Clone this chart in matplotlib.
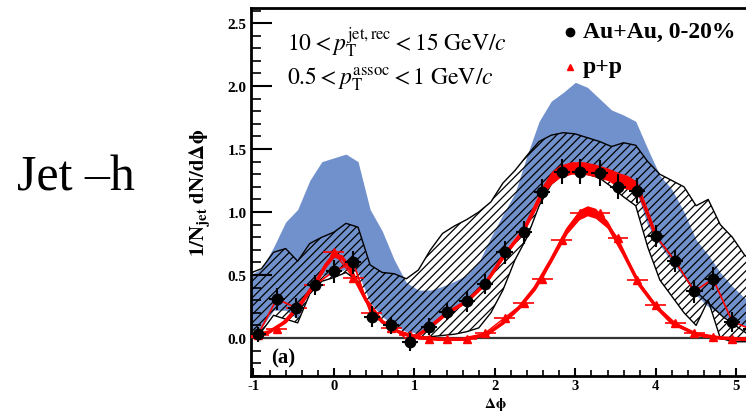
import numpy as np
import matplotlib
matplotlib.use("Agg")
import matplotlib.pyplot as plt

plt.rcParams['mathtext.fontset'] = 'stix'
plt.rcParams['font.family'] = ['Liberation Serif', 'DejaVu Serif']
plt.rcParams['axes.unicode_minus'] = False
plt.rcParams['hatch.linewidth'] = 0.9

# data points (Au+Au and p+p)
dphi = [-0.94, -0.71, -0.47, -0.24, 0.0, 0.24, 0.47, 0.71, 0.94, 1.18, 1.41, 1.65, 1.88, 2.12,
        2.36, 2.59, 2.83, 3.06, 3.30, 3.53, 3.77, 4.00, 4.24, 4.48, 4.71, 4.95, 5.18]
aa = [0.03, 0.31, 0.24, 0.42, 0.53, 0.60, 0.17, 0.10, -0.03, 0.09, 0.21, 0.29, 0.43, 0.68,
      0.84, 1.16, 1.32, 1.32, 1.31, 1.20, 1.17, 0.81, 0.61, 0.37, 0.47, 0.13, 0.07]
aa_err = [0.06, 0.09, 0.08, 0.08, 0.09, 0.09, 0.08, 0.07, 0.07, 0.07, 0.07, 0.08, 0.08, 0.09,
          0.09, 0.10, 0.10, 0.10, 0.10, 0.10, 0.10, 0.09, 0.09, 0.09, 0.09, 0.08, 0.08]
pp = [0.02, 0.07, 0.24, 0.42, 0.68, 0.48, 0.20, 0.08, 0.02, -0.01, -0.01, -0.01, 0.04, 0.16,
      0.28, 0.47, 0.78, 0.99, 0.99, 0.79, 0.46, 0.26, 0.12, 0.04, 0.01, -0.01, 0.0]

# smooth curves
pp_fit_x = [-1.03, -0.8, -0.6, -0.4, -0.2, -0.1, 0.0, 0.1, 0.2, 0.4, 0.6, 0.8, 1.0, 1.3, 1.6,
            1.9, 2.1, 2.3, 2.5, 2.7, 2.9, 3.05, 3.15, 3.25, 3.4, 3.6, 3.8, 4.0, 4.2, 4.5, 4.8, 5.12]
pp_fit_y = [0.01, 0.05, 0.13, 0.28, 0.47, 0.58, 0.66, 0.64, 0.55, 0.30, 0.13, 0.05, 0.01, -0.01,
            -0.01, 0.03, 0.12, 0.24, 0.40, 0.62, 0.86, 0.98, 1.01, 0.99, 0.90, 0.67, 0.42, 0.25,
            0.12, 0.03, 0.0, -0.01]
pp_fit_err = [0.01, 0.01, 0.01, 0.01, 0.02, 0.02, 0.02, 0.02, 0.02, 0.01, 0.01, 0.01, 0.01, 0.01,
              0.01, 0.01, 0.01, 0.01, 0.02, 0.02, 0.03, 0.04, 0.04, 0.04, 0.03, 0.02, 0.02, 0.01,
              0.01, 0.01, 0.01, 0.01]
aa_fit_x = [0.94, 1.18, 1.41, 1.65, 1.88, 2.12, 2.36, 2.5, 2.6, 2.7, 2.8, 2.95, 3.1, 3.25, 3.4,
            3.55, 3.65, 3.77, 3.88, 4.0]
aa_fit_y = [-0.02, 0.08, 0.20, 0.29, 0.43, 0.66, 0.86, 1.04, 1.18, 1.27, 1.32, 1.35, 1.35, 1.33,
            1.30, 1.26, 1.24, 1.20, 1.02, 0.81]
aa_fit_err = [0.01, 0.01, 0.01, 0.01, 0.01, 0.015, 0.02, 0.03, 0.04, 0.05, 0.05, 0.05, 0.05, 0.05,
              0.05, 0.05, 0.05, 0.04, 0.02, 0.01]
tail_x = [3.77, 4.0, 4.24, 4.45, 4.83, 5.12]
tail_y = [1.18, 0.81, 0.61, 0.40, 0.17, 0.04]

# systematic bands
band_x = [-1.1, -0.9, -0.75, -0.6, -0.45, -0.3, -0.15, 0.0, 0.15, 0.3, 0.45, 0.6, 0.75, 0.9, 1.05,
          1.2, 1.35, 1.5, 1.65, 1.8, 1.95, 2.1, 2.25, 2.4, 2.55, 2.7, 2.85, 3.0, 3.15, 3.3, 3.45,
          3.6, 3.75, 3.9, 4.05, 4.2, 4.35, 4.5, 4.65, 4.8, 4.95, 5.1, 5.2]
blue_hi = [0.48, 0.55, 0.72, 0.92, 1.02, 1.25, 1.40, 1.43, 1.46, 1.40, 1.02, 0.85, 0.62, 0.44, 0.38,
           0.38, 0.41, 0.45, 0.50, 0.60, 0.80, 0.98, 1.15, 1.45, 1.72, 1.88, 1.95, 2.03, 1.99, 1.90,
           1.81, 1.77, 1.72, 1.50, 1.29, 1.18, 1.00, 0.78, 0.66, 0.52, 0.41, 0.32, 0.28]
blue_lo = [0.05, 0.08, 0.22, 0.22, 0.15, 0.40, 0.50, 0.50, 0.55, 0.52, 0.28, 0.17, 0.10, 0.05, 0.04,
           0.07, 0.16, 0.23, 0.31, 0.40, 0.49, 0.68, 0.80, 0.93, 1.16, 1.30, 1.37, 1.40, 1.38, 1.34,
           1.28, 1.23, 1.18, 0.89, 0.74, 0.60, 0.48, 0.34, 0.25, 0.19, 0.13, 0.10, 0.08]
hatch_hi = [0.50, 0.55, 0.68, 0.71, 0.61, 0.75, 0.80, 0.84, 0.91, 0.88, 0.58, 0.52, 0.51, 0.47, 0.54,
            0.70, 0.83, 0.89, 0.94, 1.00, 1.08, 1.23, 1.33, 1.45, 1.56, 1.61, 1.63, 1.62, 1.59, 1.56,
            1.52, 1.55, 1.53, 1.40, 1.30, 1.25, 1.20, 1.05, 1.10, 0.90, 0.80, 0.66, 0.60]
hatch_lo = [0.02, 0.05, 0.18, 0.15, 0.12, 0.35, 0.45, 0.48, 0.52, 0.45, 0.22, 0.12, 0.06, 0.02, 0.0,
            0.01, 0.02, 0.03, 0.05, 0.08, 0.20, 0.38, 0.62, 0.80, 1.05, 1.22, 1.30, 1.31, 1.30, 1.27,
            1.20, 1.12, 1.05, 0.72, 0.46, 0.33, 0.20, 0.10, 0.30, 0.0, -0.03, -0.03, -0.03]

fig = plt.figure(figsize=(7.46, 4.14), dpi=100)
ax = fig.add_axes([251/746, 1-377/414, 1-251/746, 368/414])

ax.fill_between(band_x, blue_lo, blue_hi, color='#7191cc', lw=0, zorder=1)
ax.fill_between(band_x, hatch_lo, hatch_hi, facecolor='none', edgecolor='black', hatch='////',
                lw=1.0, zorder=2)
ax.axhline(0, color='#333333', lw=1.6, zorder=2.5)

# p+p
pp_fit_x = np.array(pp_fit_x)
pp_fit_y = np.array(pp_fit_y)
ax.fill_between(pp_fit_x, pp_fit_y - pp_fit_err, pp_fit_y + pp_fit_err, color='red', lw=0, zorder=3)
ax.plot(pp_fit_x, pp_fit_y, color='red', lw=2.5, zorder=3)
ax.plot(dphi, pp, color='red', lw=1, zorder=3)
ax.errorbar(dphi, pp, xerr=0.13, fmt='^', color='red', ms=6, elinewidth=1.2, capsize=0, zorder=3.5)

# Au+Au
aa_fit_x = np.array(aa_fit_x)
aa_fit_y = np.array(aa_fit_y)
ax.fill_between(aa_fit_x, aa_fit_y - aa_fit_err, aa_fit_y + aa_fit_err, color='red', lw=0, zorder=4)
ax.plot(aa_fit_x, aa_fit_y, color='red', lw=2.5, zorder=4)
ax.plot(tail_x, tail_y, color='black', lw=1, zorder=4)
ax.plot(dphi, aa, color='red', lw=1.2, zorder=4)
ax.errorbar(dphi, aa, xerr=0.1, yerr=aa_err, fmt='o', color='black', ms=7.5, elinewidth=1.5,
            capsize=0, zorder=5)

ax.set_xlim(-1.03, 5.12)
ax.set_ylim(-0.302, 2.62)
ax.set_xticks([-1, 0, 1, 2, 3, 4, 5])
ax.set_xticks(np.arange(-1, 5.2, 0.2), minor=True)
ax.set_yticks([0.0, 0.5, 1.0, 1.5, 2.0, 2.5])
ax.set_yticks(np.arange(-0.3, 2.61, 0.1), minor=True)
ax.set_yticklabels(['0.0', '0.5', '1.0', '1.5', '2.0', '2.5'])
ax.tick_params(axis='y', which='major', direction='in', length=15, width=1.5, pad=3,
               labelsize=11)
ax.tick_params(axis='y', which='minor', direction='in', length=7, width=1.2)
ax.tick_params(axis='x', which='major', direction='in', length=6, width=1.5, pad=2,
               labelsize=10.5)
ax.tick_params(axis='x', which='minor', direction='in', length=4, width=1.2)
for lab in ax.get_xticklabels() + ax.get_yticklabels():
    lab.set_fontweight('bold')
ax.spines['right'].set_visible(False)
for s in ['left', 'top', 'bottom']:
    ax.spines[s].set_linewidth(2)

ax.set_ylabel(r'$\mathbf{1/N_{jet}\ dN/d\Delta\phi}$', fontsize=15)
ax.yaxis.set_label_coords(-0.077, 0.5)
ax.set_xlabel(r'$\mathbf{\Delta\phi}$', fontsize=11)
ax.xaxis.set_label_coords(0.493, -0.052)

ax.text(0.073, 0.908, r'$10 < p_{\rm T}^{\rm jet,rec} < 15\ {\rm GeV}/c$', transform=ax.transAxes,
        fontsize=17, va='center', ha='left')
ax.text(0.073, 0.81, r'$0.5 < p_{\rm T}^{\rm assoc} < 1\ {\rm GeV}/c$', transform=ax.transAxes,
        fontsize=17, va='center', ha='left')
ax.text(0.04, 0.05, '(a)', transform=ax.transAxes, fontsize=15, fontweight='bold', va='center')

# legend
ax.plot([0.644], [0.935], 'o', color='black', ms=6, transform=ax.transAxes, clip_on=False)
ax.text(0.67, 0.935, 'Au+Au, 0-20%', transform=ax.transAxes, fontsize=17, fontweight='bold',
        va='center')
ax.plot([0.644], [0.84], '^', color='red', ms=5, transform=ax.transAxes, clip_on=False)
ax.text(0.67, 0.84, 'p+p', transform=ax.transAxes, fontsize=17, fontweight='bold', va='center')

fig.text(0.023, 0.57, 'Jet \u2013h', fontsize=36, va='center', ha='left')

fig.savefig('out.png', dpi=100)
